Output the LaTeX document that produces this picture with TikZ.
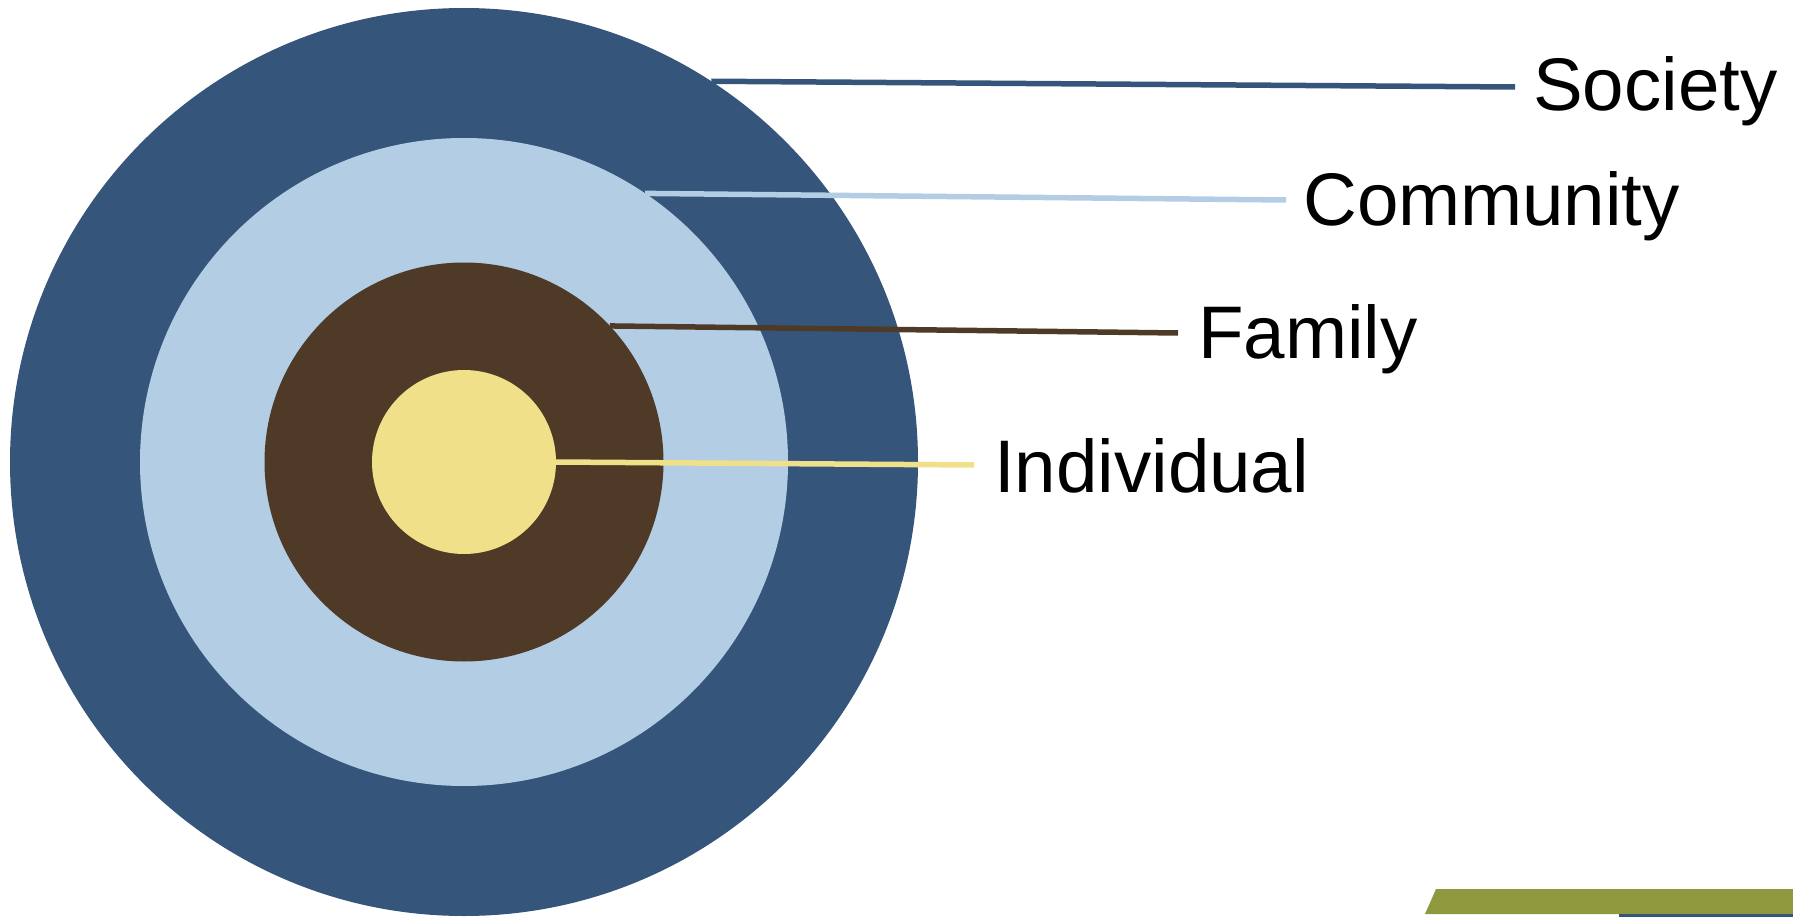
\documentclass[tikz,border=0pt]{standalone}
\usepackage{fontspec}
\setmainfont{Liberation Sans}
\definecolor{socblue}{HTML}{36557B}
\definecolor{comblue}{HTML}{B3CDE5}
\definecolor{fambrown}{HTML}{4E3A27}
\definecolor{indyellow}{HTML}{F0E08A}
\definecolor{barolive}{HTML}{8F9A3E}
\begin{document}
\begin{tikzpicture}[x=1pt,y=-1pt,
  ring/.style={circle,inner sep=0pt,outer sep=0pt,draw=none},
  leader/.style={line width=5.5pt},
  lbl/.style={anchor=base west,inner sep=0pt,font=\fontsize{74.5}{80}\selectfont}]
\useasboundingbox (0,0) rectangle (1793,917);
\node[ring,fill=socblue,minimum size=908pt] (soc) at (464,462) {};
\node[ring,fill=comblue,minimum size=648pt] (com) at (464,462) {};
\node[ring,fill=fambrown,minimum size=399pt] (fam) at (464,462) {};
\node[ring,fill=indyellow,minimum size=184pt] (ind) at (464,462) {};
\coordinate (socend) at (1515,87);
\coordinate (comend) at (1286,200);
\coordinate (famend) at (1178,333);
\coordinate (indend) at (974,465);
\draw[leader,draw=socblue] (soc.57.3) -- (socend);
\draw[leader,draw=comblue] (com.56) -- (comend);
\draw[leader,draw=fambrown] (fam.43) -- (famend);
\draw[leader,draw=indyellow] (ind.0.5) -- (indend);
\node[lbl] (soclbl) at (1533,111) {Society};
\node[lbl] (comlbl) at (1303,226) {Community};
\node[lbl] (famlbl) at (1198,358) {Family};
\node[lbl] (indlbl) at (994,492) {Individual};
\fill[barolive] (1425,914) -- (1436,889) -- (1793,889) -- (1793,914) -- cycle;
\fill[socblue] (1619,914) rectangle (1793,917);
\end{tikzpicture}
\end{document}
